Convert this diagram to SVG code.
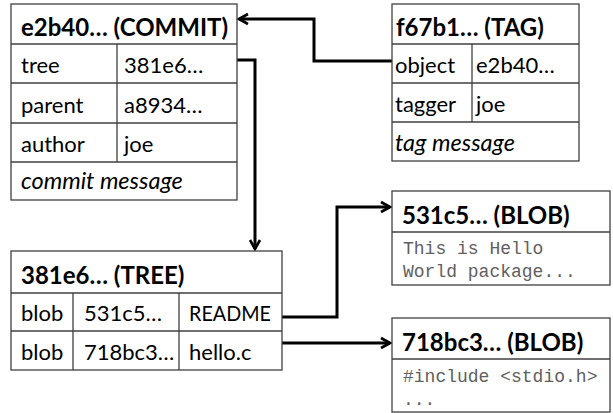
<svg xmlns="http://www.w3.org/2000/svg" width="613" height="413" viewBox="0 0 613 413">
<defs>
<style>
.box{fill:#fff;stroke:#404040;stroke-width:1.3}
.ln{stroke:#404040;stroke-width:1.3;fill:none}
.h{font-family:Lato,"Liberation Sans",sans-serif;font-weight:bold;font-size:24px;fill:#000}
.t{font-family:Lato,"Liberation Sans",sans-serif;font-size:22px;fill:#000}
.i{font-family:Lato,"Liberation Sans",sans-serif;font-style:italic;font-size:23.5px;fill:#000}
.m{font-family:"Liberation Mono","Courier New",monospace;font-size:18px;fill:#606060}
.c{fill:none;stroke:#000;stroke-width:3}
</style>
<marker id="arr" markerUnits="userSpaceOnUse" viewBox="-12 -7 14 14" refX="0" refY="0" markerWidth="14" markerHeight="14" orient="auto">
<path d="M-9,-5 L0,0 L-9,5" fill="none" stroke="#000" stroke-width="2.6"/>
</marker>
</defs>
<g id="connectors">
<path class="c" d="M392,61 H314 V19 H239" marker-end="url(#arr)"/>
<path class="c" d="M237,60 H255 V249" marker-end="url(#arr)"/>
<path class="c" d="M282,317 H337 V207 H390" marker-end="url(#arr)"/>
<path class="c" d="M282,343 H390" marker-end="url(#arr)"/>
</g>
<g id="commit">
<rect class="box" x="11" y="4" width="226" height="196"/>
<path class="ln" d="M11,44 H237 M11,83 H237 M11,123 H237 M11,162 H237 M117,44 V162"/>
<text class="h" x="21" y="36">e2b40… (COMMIT)</text>
<text class="t" x="21" y="73">tree</text>
<text class="t" x="124" y="73">381e6…</text>
<text class="t" x="21" y="113">parent</text>
<text class="t" x="124" y="113">a8934…</text>
<text class="t" x="21" y="152">author</text>
<text class="t" x="124" y="152">joe</text>
<text class="i" x="21" y="189">commit message</text>
</g>
<g id="tag">
<rect class="box" x="392" y="4" width="187" height="157"/>
<path class="ln" d="M392,44 H579 M392,83 H579 M392,122 H579 M472,44 V122"/>
<text class="h" x="396" y="36">f67b1… (TAG)</text>
<text class="t" x="395" y="73">object</text>
<text class="t" x="476" y="73">e2b40…</text>
<text class="t" x="395" y="112">tagger</text>
<text class="t" x="476" y="112">joe</text>
<text class="i" x="395" y="151">tag message</text>
</g>
<g id="tree">
<rect class="box" x="11" y="251" width="271" height="119"/>
<path class="ln" d="M11,293 H282 M11,331 H282 M73,293 V370 M179,293 V370"/>
<text class="h" x="21" y="284">381e6… (TREE)</text>
<text class="t" x="21" y="321">blob</text>
<text class="t" x="84" y="321">531c5…</text>
<text class="t" x="189" y="321" textLength="82" lengthAdjust="spacingAndGlyphs">README</text>
<text class="t" x="21" y="360">blob</text>
<text class="t" x="84" y="360">718bc3…</text>
<text class="t" x="189" y="360">hello.c</text>
</g>
<g id="blob1">
<rect class="box" x="392" y="191" width="218" height="94"/>
<path class="ln" d="M392,232 H610"/>
<text class="h" x="402" y="224">531c5… (BLOB)</text>
<text class="m" x="403" y="254">This is Hello</text>
<text class="m" x="403" y="277">World package...</text>
</g>
<g id="blob2">
<rect class="box" x="392" y="318" width="218" height="94"/>
<path class="ln" d="M392,359 H610"/>
<text class="h" x="402" y="351">718bc3… (BLOB)</text>
<text class="m" x="403" y="382">#include &lt;stdio.h&gt;</text>
<text class="m" x="403" y="405">...</text>
</g>
</svg>
